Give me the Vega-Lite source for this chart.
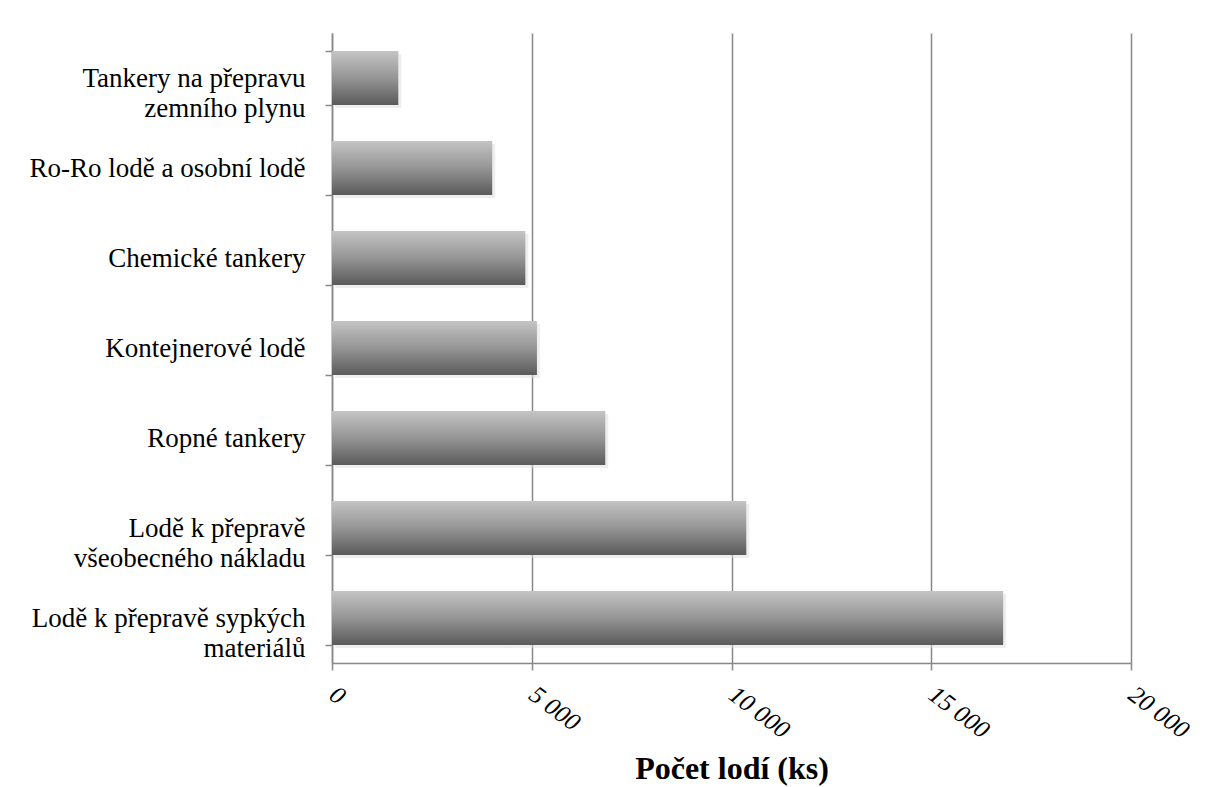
{
  "$schema": "https://vega.github.io/schema/vega-lite/v6.json",
  "width": 799,
  "height": 630,
  "autosize": {"type": "none"},
  "padding": {"left": 332, "top": 33, "right": 75, "bottom": 124},
  "background": "white",
  "config": {
    "view": {"stroke": null},
    "font": "Liberation Serif"
  },
  "data": {
    "values": [
      {"typ": "Tankery na přepravu zemního plynu", "pocet": 1660},
      {"typ": "Ro-Ro lodě a osobní lodě", "pocet": 4010},
      {"typ": "Chemické tankery", "pocet": 4840},
      {"typ": "Kontejnerové lodě", "pocet": 5130},
      {"typ": "Ropné tankery", "pocet": 6840},
      {"typ": "Lodě k přepravě všeobecného nákladu", "pocet": 10370},
      {"typ": "Lodě k přepravě sypkých materiálů", "pocet": 16800}
    ]
  },
  "encoding": {
    "y": {
      "field": "typ",
      "type": "nominal",
      "sort": null,
      "scale": {"paddingInner": 0.4, "paddingOuter": 0.2},
      "axis": {
        "title": null,
        "domainColor": "#888888",
        "domainWidth": 1.5,
        "tickColor": "#888888",
        "tickWidth": 1.5,
        "tickSize": 7,
        "tickBand": "extent",
        "labelFont": "Liberation Serif",
        "labelFontSize": 27,
        "labelColor": "#000000",
        "labelPadding": 20,
        "labelLineHeight": 30,
        "labelLimit": 400,
        "labelExpr": "datum.value == 'Tankery na přepravu zemního plynu' ? ['Tankery na přepravu', 'zemního plynu'] : datum.value == 'Lodě k přepravě všeobecného nákladu' ? ['Lodě k přepravě', 'všeobecného nákladu'] : datum.value == 'Lodě k přepravě sypkých materiálů' ? ['Lodě k přepravě sypkých', 'materiálů'] : datum.value"
      }
    },
    "x": {
      "field": "pocet",
      "type": "quantitative",
      "scale": {"domain": [0, 20000], "nice": false},
      "axis": {
        "title": "Počet lodí (ks)",
        "titleFont": "Liberation Serif",
        "titleFontSize": 32,
        "titleFontWeight": "bold",
        "titleColor": "#000000",
        "titlePadding": 11,
        "values": [0, 5000, 10000, 15000, 20000],
        "labelExpr": "replace(format(datum.value, ','), ',', ' ')",
        "labelFont": "Liberation Serif",
        "labelFontSize": 25,
        "labelFontStyle": "italic",
        "labelColor": "#000000",
        "labelAngle": 37,
        "labelAlign": "left",
        "labelBaseline": "middle",
        "labelPadding": 21,
        "labelFlush": false,
        "labelOverlap": false,
        "grid": true,
        "gridColor": "#888888",
        "gridWidth": 1.5,
        "domainColor": "#888888",
        "domainWidth": 1.5,
        "tickColor": "#888888",
        "tickWidth": 1.5,
        "tickSize": 7
      }
    }
  },
  "layer": [
    {
      "mark": {"type": "bar", "color": "#dddddd", "opacity": 0.5, "xOffset": 3, "yOffset": 3}
    },
    {
      "mark": {
        "type": "bar",
        "color": {
          "gradient": "linear",
          "x1": 0, "y1": 0, "x2": 0, "y2": 1,
          "stops": [
            {"offset": 0, "color": "#c4c4c4"},
            {"offset": 0.5, "color": "#959595"},
            {"offset": 1, "color": "#5a5a5a"}
          ]
        }
      }
    }
  ]
}
